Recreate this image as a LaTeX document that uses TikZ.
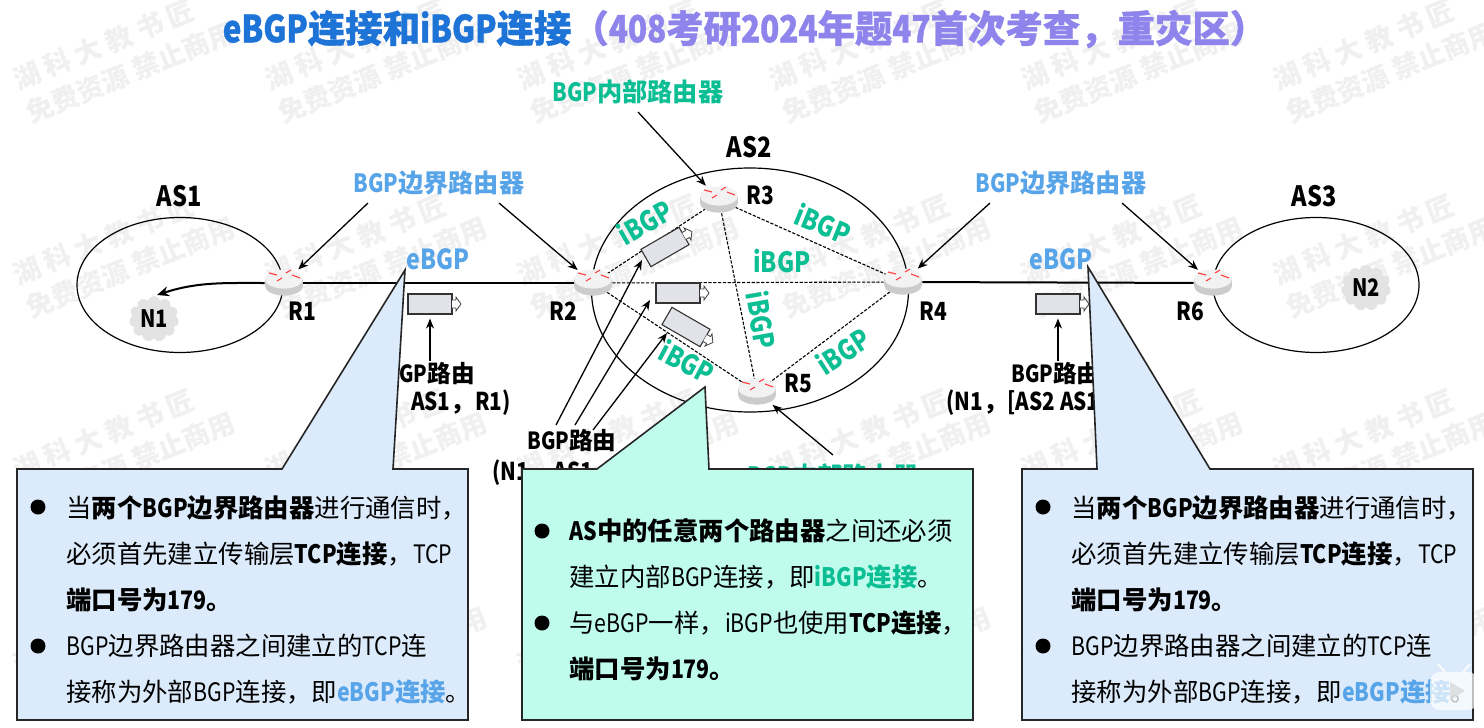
\documentclass[tikz,border=0pt]{standalone}
\usepackage{fontspec}
\setmainfont{Noto Sans CJK SC}
\newfontfamily\narrowfont[FakeStretch=.84]{Noto Sans CJK SC}
\usepackage{tikz}
\usetikzlibrary{arrows.meta,shapes.geometric,shapes.symbols}
\usepackage{xcolor}
\definecolor{cTitle}{RGB}{30,115,214}
\definecolor{cPurple}{RGB}{142,132,236}
\definecolor{cEdge}{RGB}{88,164,232}
\definecolor{cInner}{RGB}{12,190,148}
\definecolor{cBlueBox}{RGB}{220,235,251}
\definecolor{cMintBox}{RGB}{191,252,236}
\definecolor{cMark}{RGB}{240,240,240}
\definecolor{cPacket}{RGB}{226,227,232}
\newcommand{\ltn}[1]{{\narrowfont #1}}
\newcommand{\ltt}[1]{{\narrowfont\addfontfeature{FakeBold=1}#1}}
\newcommand{\hlE}[1]{\textbf{\textcolor{cEdge}{#1}}}
\newcommand{\hlI}[1]{\textbf{\textcolor{cInner}{#1}}}
\tikzset{
  routerpic/.pic={
    \fill[gray!40] (0,3) ellipse [x radius=9.5pt,y radius=4.8pt];
    \fill[gray!40] (-19,-4) rectangle (19,3);
    \fill[gray!10] (0,-4) ellipse [x radius=9.5pt,y radius=4.8pt];
    \foreach \xa/\ya/\xb/\yb in {-15/-10/-7/-8, 7/-13/2/-10, -2/-5/-7/-2, 8/-8/16/-5} {
      \draw[red!75,line width=.55pt] (\xa,\ya) -- (\xb,\yb);
    }
  },
  packet/.pic={
    \node[packetbox,transform shape] (-box) at (0,0) {};
    \draw[black!75,fill=white,line width=.4pt] (22,-4) -- (26,-4) -- (26,-7) -- (31,0) -- (26,7) -- (26,4) -- (22,4);
  }
}
\begin{document}
\begin{tikzpicture}[
    x=.5pt, y=-.5pt,
    router/.style={ellipse,minimum width=19pt,minimum height=13pt,inner sep=0pt},
    asring/.style={draw,line width=.6pt},
    trunk/.style={line width=1pt},
    peer/.style={dashed,line width=.55pt,dash pattern=on 1.6pt off .8pt},
    packetbox/.style={rectangle,draw=black!80,fill=cPacket,line width=.55pt,minimum width=22pt,minimum height=10pt,inner sep=0pt},
    net/.style={cloud,cloud puffs=11,fill=gray!22,minimum width=25pt,minimum height=23pt,inner sep=0pt,font=\fontsize{12}{12}\selectfont\bfseries},
    rlabel/.style={font=\fontsize{12.5}{12}\selectfont\bfseries},
    aslabel/.style={font=\fontsize{14}{13}\selectfont\bfseries},
    edgelabel/.style={text=cEdge,font=\fontsize{12.6}{13}\selectfont\bfseries},
    innerlabel/.style={text=cInner,font=\fontsize{12.6}{13}\selectfont\bfseries},
    ebgp/.style={text=cEdge,font=\fontsize{13.8}{13}\selectfont\bfseries},
    ibgp/.style={text=cInner,font=\fontsize{14}{13}\selectfont\bfseries},
    route/.style={inner sep=0pt,font=\fontsize{11.8}{12}\selectfont\bfseries},
    routeb/.style={inner sep=0pt,font=\fontsize{12.3}{12}\selectfont\bfseries},
    pointer/.style={-{Stealth[length=5pt,width=4pt]},line width=.65pt,shorten >=2pt},
    callout/.style={draw=black!85,line width=.8pt},
    bullettext/.style={anchor=west,inner sep=0pt,align=left,font=\fontsize{12.7}{23}\selectfont},
    dotmark/.style={circle,fill=black,minimum size=7.5pt,inner sep=0pt},
    markfont/.style={text=cMark,rotate=22,align=left,font=\fontsize{13.5}{18}\selectfont\bfseries}
  ]
  \useasboundingbox (0,0) rectangle (1484,728);
  \fill[white] (0,0) rectangle (1484,728);
  % Watermark
  \foreach \i in {0,...,5} {
    \foreach \j in {0,...,3} {
      \node[markfont] (mark\i\j) at (124+252*\i,56+195*\j) {湖\ 科\ 大\ 教\ 书\ 匠\\免费资源\ 禁止商用};
    }
  }
  % Title
  \node[font=\fontsize{18.7}{19}\selectfont\bfseries\addfontfeature{FakeBold=1}] (title) at (745,29) {\textcolor{cTitle}{\ltt{eBGP}连接和\ltt{iBGP}连接}\textcolor{cPurple}{（\ltt{408}考研\ltt{2024}年题\ltt{47}首次考查，重灾区）}};
  % AS rings
  \node[ellipse,asring,minimum width=103pt,minimum height=67.5pt,inner sep=0pt] (as1) at (180,285) {};
  \node[ellipse,asring,minimum width=158.5pt,minimum height=122pt,inner sep=0pt] (as2) at (750,290) {};
  \node[ellipse,asring,minimum width=103pt,minimum height=67.5pt,inner sep=0pt] (as3) at (1316,285) {};
  \node[aslabel] (as1t) at (179,196) {\ltn{AS1}};
  \node[aslabel] (as2t) at (749,147) {\ltn{AS2}};
  \node[aslabel] (as3t) at (1314,196) {\ltn{AS3}};
  % Routers
  \foreach \n/\x/\y in {R1/284/283, R2/593/283, R3/719/200, R4/903/282, R5/757/392, R6/1213/283} {
    \node[router] (\n) at (\x,\y) {};
  }
  \node[net] (N1) at (154,319) {\ltn{N1}};
  \node[net] (N2) at (1366,288) {\ltn{N2}};
  % Links
  \draw[trunk] (R1) -- (R2);
  \draw[trunk] (R4) -- (R6);
  \draw[-{Stealth[length=6pt,width=5pt]},line width=1pt] (R1) to[out=180,in=18] (157,295);
  \foreach \a/\b in {R2/R3, R2/R4, R2/R5, R3/R4, R3/R5, R4/R5} {
    \draw[peer] (\a) -- (\b);
  }
  \foreach \n in {R1,R2,R3,R4,R5,R6} {
    \pic at (\n) {routerpic};
  }
  \node[rlabel] (R1t) at (302,311) {\ltn{R1}};
  \node[rlabel] (R2t) at (563,311) {\ltn{R2}};
  \node[rlabel] (R3t) at (760,195) {\ltn{R3}};
  \node[rlabel] (R4t) at (933,311) {\ltn{R4}};
  \node[rlabel] (R5t) at (798,383) {\ltn{R5}};
  \node[rlabel] (R6t) at (1190,311) {\ltn{R6}};
  % iBGP labels
  \node[ibgp,rotate=30] (ib1) at (645,222) {\ltn{iBGP}};
  \node[ibgp,rotate=-22] (ib2) at (823,224) {\ltn{iBGP}};
  \node[ibgp] (ib3) at (782,261) {\ltn{iBGP}};
  \node[ibgp,rotate=-80] (ib4) at (762,320) {\ltn{iBGP}};
  \node[ibgp,rotate=-28] (ib5) at (687,362) {\ltn{iBGP}};
  \node[ibgp,rotate=33] (ib6) at (843,351) {\ltn{iBGP}};
  % Role labels
  \node[edgelabel] (edgeL) at (439,183) {\ltn{BGP}边界路由器};
  \node[edgelabel] (edgeR) at (1061,183) {\ltn{BGP}边界路由器};
  \node[ebgp] (ebgpL) at (438,259) {\ltn{eBGP}};
  \node[ebgp] (ebgpR) at (1061,259) {\ltn{eBGP}};
  \node[innerlabel] (innerT) at (638,92) {\ltn{BGP}内部路由器};
  \node[innerlabel] (innerB) at (833,476) {\ltn{BGP}内部路由器};
  \coordinate (edgeLa) at (368,203);
  \coordinate (edgeLb) at (499,203);
  \coordinate (edgeRa) at (990,203);
  \coordinate (edgeRb) at (1122,203);
  \coordinate (innerTa) at (638,112);
  \coordinate (innerBa) at (833,455);
  \draw[pointer] (edgeLa) -- (R1);
  \draw[pointer] (edgeLb) -- (R2);
  \draw[pointer] (edgeRa) -- (R4);
  \draw[pointer] (edgeRb) -- (R6);
  \draw[pointer] (innerTa) -- (R3);
  \draw[pointer] (innerBa) -- (R5);
  % Packets
  \pic (pL) at (430,304) {packet};
  \pic (pR) at (1058,304) {packet};
  \pic[rotate=30] (pA) at (665,247) {packet};
  \pic (pB) at (678,293) {packet};
  \pic[rotate=-30] (pC) at (686,327) {packet};
  % Route labels
  \node[route,anchor=east] (rtL) at (475,374) {\ltn{BGP}路由};
  \node[routeb,anchor=east] (rtLb) at (511,403) {\ltn{(N1}，\ltn{AS1}，\ltn{R1)}};
  \node[route,anchor=west] (rtM) at (527,441) {\ltn{BGP}路由};
  \node[routeb,anchor=west] (rtMb) at (492,473) {\ltn{(N1}，\ltn{AS1}，\ltn{R2)}};
  \node[route,anchor=west] (rtR) at (1011,374) {\ltn{BGP}路由};
  \node[routeb,anchor=west] (rtRb) at (946,403) {\ltn{(N1}，\ltn{[AS2 AS1]}，\ltn{R4)}};
  \coordinate (rtLt) at (430,361);
  \coordinate (rtRt) at (1058,361);
  \draw[pointer] (rtLt) -- (pL-box.south);
  \draw[pointer] (rtRt) -- (pR-box.south);
  \foreach \a/\ax/\ay/\bx/\by in {A/556/425/642/260, B/575/425/650/300, C/593/430/667/333} {
    \coordinate (tail\a) at (\ax,\ay);
    \coordinate (head\a) at (\bx,\by);
    \draw[pointer,shorten >=0pt] (tail\a) -- (head\a);
  }
  % Callouts
  \draw[callout,fill=cBlueBox] (17,469) -- (282,469) -- (405,270) -- (393,469) -- (468,469) -- (468,720) -- (17,720) -- cycle;
  \draw[callout,fill=cMintBox] (522,469) -- (597,469) -- (705,387) -- (709,469) -- (973,469) -- (973,720) -- (522,720) -- cycle;
  \draw[callout,fill=cBlueBox] (1022,469) -- (1097,469) -- (1088,267) -- (1210,469) -- (1473,469) -- (1473,720) -- (1022,720) -- cycle;
  % Callout text
  \foreach \b/\x in {L/0, R/1005} {
    \node[dotmark] (dot\b a) at (38+\x,507) {};
    \node[dotmark] (dot\b b) at (38+\x,646) {};
    \node[bullettext] (txt\b) at (66+\x,600) {当\textbf{两个\ltn{BGP}边界路由器}进行通信时，\\必须首先建立传输层\textbf{\ltn{TCP}连接}，\ltn{TCP}\\\textbf{端口号为\ltn{179}。}\\\ltn{BGP}边界路由器之间建立的\ltn{TCP}连\\接称为外部\ltn{BGP}连接，即\hlE{\ltn{eBGP}连接}。};
  }
  \node[dotmark] (dotMa) at (542,531) {};
  \node[dotmark] (dotMb) at (542,623) {};
  \node[bullettext] (txtM) at (569,600) {\textbf{\ltn{AS}中的任意两个路由器}之间还必须\\建立内部\ltn{BGP}连接，即\hlI{\ltn{iBGP}连接}。\\与\ltn{eBGP}一样，\ltn{iBGP}也使用\textbf{\ltn{TCP}连接}，\\\textbf{端口号为\ltn{179}。}};
  % Corner badge
  \fill[white,opacity=.7,rounded corners=5pt] (1430,672) rectangle (1478,710);
  \fill[gray!30,opacity=.8] (1450,682) -- (1465,691) -- (1450,700) -- cycle;
  \draw[white,opacity=.8,line width=1pt] (1438,664) -- (1445,672) (1470,664) -- (1463,672);
\end{tikzpicture}
\end{document}
